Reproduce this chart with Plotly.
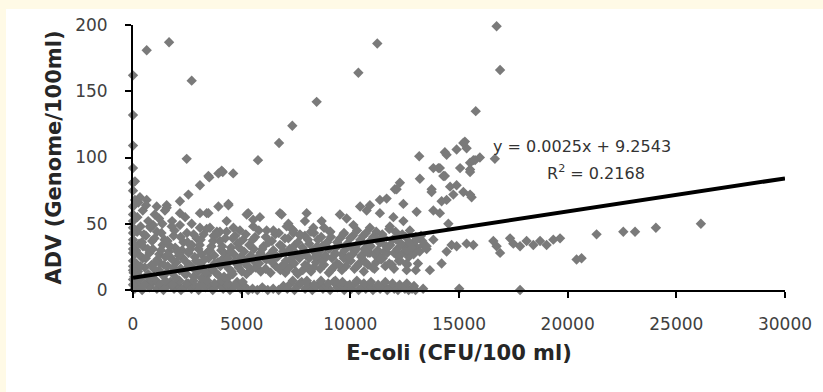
import plotly.graph_objects as go

# ---- data (E-coli CFU/100 ml, ADV genome/100 ml) ----
upper_pts = [
    (0,162),(0,132),(0,109),(0,92),(0,81),(0,75),
    (630,181),(1660,187),(2700,158),(2470,99),(5750,98),(6720,111),(7330,124),
    (3080,79),(3510,85),(3930,88),(4130,89),(4610,88),(2550,72),
    (16730,199),(16890,166),(11240,186),(10370,164),(8450,142),(15770,135),
    (15270,112),(15350,107),(14890,106),(14350,104),(14430,102),(16650,99),(15960,100),
    (15740,98),(15510,96),(15510,91),(15050,92),(13170,101),(13820,92),(14120,92),
    (14280,86),(13200,84),(12280,81),(14890,79),(14590,78),(13740,76),(15200,74),
    (15510,72),(14740,72),(12050,76),(14430,68),(11670,69),(11360,68),
    (15200,111),(15660,98),(14050,92),(15510,89),(14350,86),(12130,76),(13740,74),
    (14200,67),(15580,70),(12440,65),(13050,59),(13820,60),(14120,58),(14510,50),
    (10450,63),(10750,60),(10900,64),(7990,58),(9520,57),(9830,54),(11360,58),
    (11980,55),(12440,52),(12740,45),(11820,48),(8680,52),(9060,44),(10140,49),
    (10900,47),(11210,39),(12130,40),(13050,38),(13510,33),(13820,38),
    (320,70),(630,68),(1090,63),(1470,60),(1550,64),(2160,67),(3080,58),(3390,58),
    (3930,63),(4390,64),(3080,47),(3540,47),(4000,44),(4310,52),(5300,58),(5840,55),
    (6760,58),(7150,50),(4920,45),(5530,48),(6150,45),(7380,45),(3470,86),(4080,90),
    (1550,62),(90,82),(90,68),(930,49),(780,48),(1780,48),(2160,49),(2160,58),
    (3470,58),(4390,65),(3850,42),(4620,47),(5230,57),(5530,53),(6460,45),(6840,57),
    (7070,48),(7380,43),(7680,42),(7910,52),(8300,47),
    (200,55),(450,60),(700,52),(350,48),(1200,54),(1000,57),(1800,52),(2400,55),
    (2700,50),(600,64),(250,66),(1350,50),
]
right_pts = [
    (16580,37),(16890,28),(16730,33),(17350,39),(17500,35),(17810,33),(18110,37),
    (18420,34),(18730,37),(19030,34),(19340,38),(19650,39),(20410,23),(20640,24),
    (21330,42),(22560,44),(23100,44),(24060,47),(26130,50),
    (14660,34),(14890,33),(15350,35),(15660,34),(14430,29),(14200,20),(13660,15),
    (12590,15),(12590,20),
]
axis_col_pts = [
    (0,63),(0,57),(0,52),(0,47),(0,43),(0,35),(0,31),(0,28),(0,18),(0,15),(0,8),(0,4),
]
base_pts = [
    (80,1),(260,3),(420,0),(610,5),(760,2),(930,6),(1100,1),(1240,4),(1400,0),(1580,3),
    (1720,6),(1890,1),(2050,4),(2210,0),(2380,2),(2530,5),(2690,1),(2860,3),(3020,0),
    (3190,6),(3340,2),(3500,4),(3670,0),(3830,3),(3990,5),(4150,1),(4300,4),(4460,0),
    (4620,2),(4790,6),(4950,1),(5120,3),(5300,0),(5500,1),(5720,0),(5950,2),(6200,0),
    (6450,1),(6700,0),(6920,3),(7100,1),(7260,5),(7430,0),(7590,3),(7760,6),(7920,1),
    (8080,4),(8250,0),(8410,2),(8580,5),(8740,1),(8900,3),(9070,0),(9230,6),(9400,2),
    (9560,4),(9720,0),(9890,3),(10050,1),(10220,5),(10380,0),(10540,2),(10710,1),
    (10870,4),(11040,0),(11200,2),(11370,1),(11530,3),(11700,0),(11860,2),(12020,1),
    (12190,0),(12350,2),(12510,1),(12680,0),(12840,1),(13000,0),(13350,1),(15010,1),
    (17810,0),
    (170,6),(520,4),(850,7),(1180,5),(1500,7),(1820,4),(2140,7),(2460,5),(2780,7),
    (3100,4),(3420,7),(3750,5),(4070,7),(4390,5),(4710,4),(5050,6),(7350,7),(7680,5),
    (8000,7),(8330,4),(8650,7),(8980,5),(9310,7),(9640,6),(9970,4),(10300,7),(10620,5),
    (10950,6),(11280,4),(11610,6),(11940,5),(12270,4),(12600,5),(12930,3),
]
low_pts = [
    (60,10),(230,14),(390,9),(540,17),(700,12),(860,19),(1010,8),(1190,15),(1380,11),
    (1600,18),(1790,13),(1980,9),(2200,16),(2390,12),(2610,19),(2790,10),(2990,14),
    (3210,17),(3400,11),(3590,15),(3810,13),(4020,18),(4190,10),(4410,16),(4590,12),
    (4810,19),(5010,14),(5220,12),(5420,15),(5650,17),(5880,14),(6100,16),(6330,13),
    (6560,18),(6780,15),(7010,13),(7190,17),(7420,20),(7580,12),(7810,15),(8020,18),
    (8190,14),(8420,21),(8610,16),(8790,19),(9010,13),(9220,17),(9390,20),(9610,15),
    (9800,18),(10020,22),(10190,16),(10410,20),(10620,14),(10810,19),(11020,17),
    (11190,21),(11420,23),(11610,18),(11790,20),(12010,16),(12230,22),(12610,19),
    (13010,15),
    (30,13),(340,18),(660,11),(960,16),(1260,20),(1540,13),(1860,17),(2140,15),
    (2460,12),(2740,17),(3060,20),(3340,13),(3660,16),(3940,11),(4260,19),(4540,14),
    (4860,17),(5160,20),(7110,16),(7490,14),(7920,19),(8310,17),(8690,22),(9110,15),
    (9490,19),(9910,23),(10310,18),(10690,21),(11110,16),(11490,24),(11910,19),
    (12290,22),(12690,25),(13110,20),
]
low_fill_pts = [
    (150,20),(450,24),(800,9),(1120,23),(1420,19),(1700,25),(2000,21),(2300,24),
    (2550,18),(2900,22),(3150,9),(3480,24),(3750,20),(4100,23),(4350,9),(4700,22),
    (5000,25),(5300,18),(5550,22),(5800,20),(6050,24),(6400,21),(6650,25),(6900,19),
    (7250,23),(7700,26),(8100,24),(8500,26),(8900,25),(9300,27),(9700,24),(10100,27),
    (10500,25),(10900,28),(11300,26),(11700,28),(12100,27),(12500,29),(12900,28),
]
mid_pts = [
    (0,22),(140,30),(310,26),(460,33),(590,24),(760,28),(910,31),(1040,21),(1210,27),
    (1360,34),(1490,25),(1660,29),(1810,23),(1940,32),(2110,26),(2260,30),(2390,22),
    (2560,28),(2710,34),(2840,25),(3010,31),(3160,27),(3290,23),(3460,29),(3610,33),
    (3740,26),(3910,21),(4060,30),(4190,28),(4360,24),(4510,32),(4640,27),(4810,35),
    (4960,25),(5110,29),(5240,22),(5410,26),(5560,31),(5690,24),(5860,28),(6010,33),
    (6140,23),(6310,27),(6460,30),(6590,25),(6760,34),(6910,29),(7040,22),(7210,31),
    (7360,26),(7490,28),(7660,24),(7810,32),(7940,27),(8110,35),(8260,30),(8390,25),
    (8560,29),(8710,33),(8840,26),(9010,31),(9160,24),(9290,28),(9460,34),(9610,27),
    (9740,30),(9910,25),(10060,32),(10190,29),(10360,35),(10510,26),(10640,31),
    (10810,28),(10940,33),(11110,27),(11260,30),(11390,36),(11560,29),(11710,32),
    (11840,34),(12010,28),(12160,31),(12290,26),(12460,33),(12610,30),(12740,35),
    (12910,27),(13060,32),(13190,29),(13360,34),(13510,31),
]
mid_fill_pts = [
    (70,27),(280,35),(500,42),(680,31),(880,37),(1100,44),(1290,30),(1450,38),
    (1700,33),(1870,41),(2050,29),(2320,36),(2480,43),(2650,31),(2930,39),(3070,34),
    (3250,42),(3530,30),(3680,37),(3860,44),(4100,33),(4250,39),(4470,29),(4700,41),
    (4880,32),(5060,38),(5350,34),(5620,40),(5950,31),(6250,36),(6550,42),(6850,33),
    (7150,39),(7450,34),(7700,41),(7870,30),(8050,38),(8330,43),(8480,33),(8660,40),
    (8930,36),(9080,44),(9340,32),(9530,39),(9680,42),(9860,35),(10120,41),(10280,31),
    (10460,38),(10720,43),(10880,34),(11050,40),(11330,36),(11470,42),(11650,33),
    (11950,38),(12080,44),(12340,35),(12550,40),(12830,32),(12980,37),(13250,41),
]
high_mid_pts = [
    (0,38),(190,44),(410,36),(590,41),(810,47),(990,39),(1310,43),(1590,37),(1910,45),
    (2190,40),(2510,36),(2790,42),(3110,38),(3390,46),(3710,41),(3990,37),(4310,44),
    (4590,39),(4910,36),(5190,42),(5510,38),(5790,45),(6110,40),(6390,37),(6710,43),
    (6990,39),(7310,46),(7590,36),(7910,41),(8190,44),(8510,38),(8790,47),(9110,40),
    (9390,36),(9710,43),(9990,39),(10310,45),(10590,41),(10910,37),(11190,44),
    (11510,40),(11790,46),(12110,38),(12390,42),(12710,36),(13010,40),(13310,37),
]

# trendline from the reference equation
slope = 0.0025
intercept = 9.2543
r2 = 0.2168
trend_x = [0, 30000]

x_ticks = [0, 5000, 10000, 15000, 20000, 25000, 30000]
y_ticks = [0, 50, 100, 150, 200]

all_pts = (base_pts + low_pts + low_fill_pts + mid_pts + mid_fill_pts + high_mid_pts
           + axis_col_pts + upper_pts + right_pts)
xs = [p[0] for p in all_pts]
ys = [p[1] for p in all_pts]

fig = go.Figure()
fig.add_trace(go.Scatter(
    x=xs, y=ys, mode="markers", cliponaxis=False,
    marker=dict(symbol="diamond", size=8, color="#7a7a7a", line=dict(width=0)),
    hoverinfo="skip", showlegend=False))
fig.add_trace(go.Scatter(
    x=trend_x, y=[slope * v + intercept for v in trend_x], mode="lines",
    line=dict(color="black", width=4), showlegend=False, hoverinfo="skip"))

# white panel on the cream page
L, W, T, H = 133, 652, 25, 265
def px_to_paper_x(px): return (px - L) / W
def px_to_paper_y(py): return (T + H - py) / H
fig.add_shape(type="rect", xref="paper", yref="paper", layer="below",
              x0=px_to_paper_x(6), x1=px_to_paper_x(830),
              y0=px_to_paper_y(400), y1=px_to_paper_y(9),
              fillcolor="white", line=dict(width=0))

fig.add_annotation(x=20650, y=108, xref="x", yref="y", showarrow=False,
                   text=f"y = {slope}x + {intercept}",
                   font=dict(family="DejaVu Sans", size=16, color="#333333"))
fig.add_annotation(x=21300, y=89, xref="x", yref="y", showarrow=False,
                   text=f"R<sup>2</sup> = {r2}",
                   font=dict(family="DejaVu Sans", size=16, color="#333333"))

tick_font = dict(family="DejaVu Sans", size=17, color="#404040")
fig.update_xaxes(range=[0, 30000], tickvals=x_ticks, ticktext=[str(v) for v in x_ticks],
                 showline=True, linecolor="black", linewidth=2, showgrid=False,
                 zeroline=False, ticks="outside", ticklen=6, tickwidth=2, tickcolor="black",
                 tickfont=tick_font, ticklabelstandoff=12,
                 title=dict(text="<b>E-coli (CFU/100 ml)</b>", standoff=12,
                            font=dict(family="DejaVu Sans", size=21, color="#262626")))
fig.update_yaxes(range=[0, 200], tickvals=y_ticks, ticktext=[str(v) for v in y_ticks],
                 showline=True, linecolor="black", linewidth=2, showgrid=False,
                 zeroline=False, ticks="outside", ticklen=6, tickwidth=2, tickcolor="black",
                 tickfont=tick_font, ticklabelstandoff=14,
                 title=dict(text="<b>ADV (Genome/100ml)</b>", standoff=8,
                            font=dict(family="DejaVu Sans", size=21, color="#262626")))

fig.update_layout(width=823, height=392, autosize=False,
                  margin=dict(l=L, r=823 - L - W, t=T, b=392 - T - H),
                  paper_bgcolor="#FFFAE6", plot_bgcolor="white")

fig.write_html("out.html")
